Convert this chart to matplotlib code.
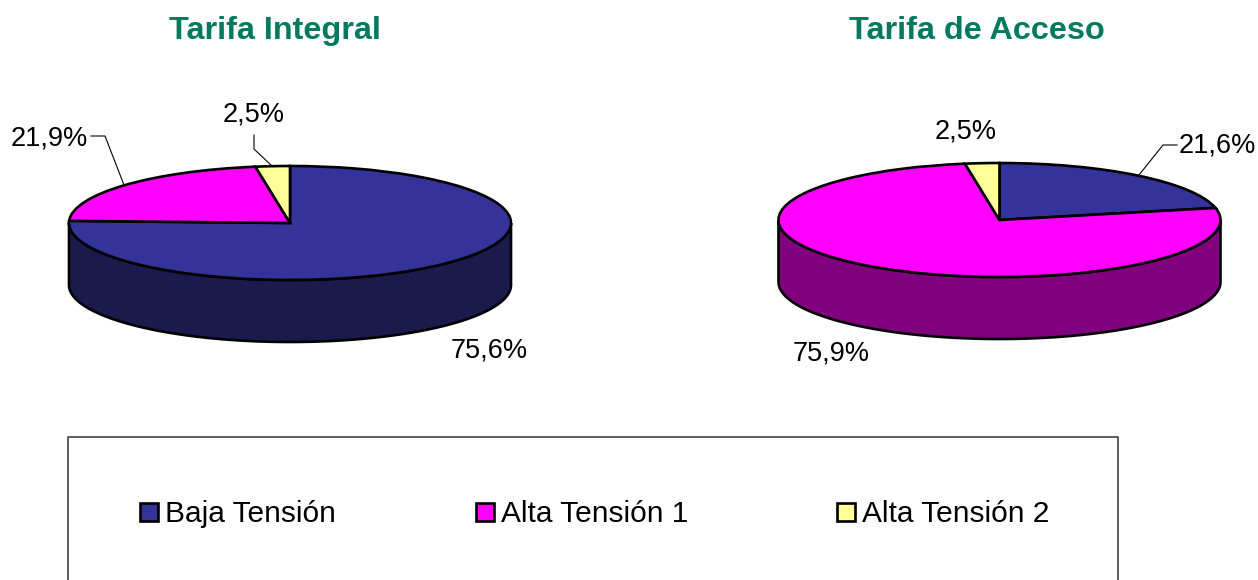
import numpy as np
import matplotlib
matplotlib.use("Agg")
import matplotlib.pyplot as plt
from matplotlib.patches import Rectangle

# datos de cada torta
categorias = ["Baja Tensión", "Alta Tensión 1", "Alta Tensión 2"]
tarifa_integral = [75.6, 21.9, 2.5]
tarifa_acceso = [21.6, 75.9, 2.5]
etiquetas_integral = ["75,6%", "21,9%", "2,5%"]
etiquetas_acceso = ["21,6%", "75,9%", "2,5%"]

colores = ["#333399", "#FF00FF", "#FFFF99"]
colores_lado_integral = ["#1A1A4D", "#800080", "#808050"]
colores_lado_acceso = ["#1A1A4D", "#800080", "#808050"]

W, H = 1258, 580
plt.rcParams['font.family'] = ['Liberation Sans', 'DejaVu Sans']

fig = plt.figure(figsize=(W / 100, H / 100), dpi=100)

# capa en pixeles para textos y leyenda
capa = fig.add_axes([0, 0, 1, 1], zorder=5)
capa.set_xlim(0, W)
capa.set_ylim(H, 0)
capa.axis("off")
capa.patch.set_alpha(0)


def torta(cx, cy, rx, ry, prof, valores, lados):
    ax = fig.add_axes([(cx - rx) / W, 1 - (cy + ry) / H, 2 * rx / W, 2 * ry / H])
    wedges, _ = ax.pie(valores, colors=colores, startangle=90, counterclock=False,
                       wedgeprops=dict(edgecolor="black", linewidth=1.9, clip_on=False))
    ax.set_aspect("auto")
    ax.set_xlim(-1, 1)
    ax.set_ylim(-1, 1)
    h = prof / ry
    # pared lateral: solo la mitad delantera de cada sector
    for w, lado in zip(wedges, lados):
        t1, t2 = sorted((w.theta1, w.theta2))
        for k in (0, 360):
            a = max(t1 + k, 180)
            b = min(t2 + k, 360)
            if b <= a:
                continue
            t = np.radians(np.linspace(a, b, 120))
            xs = np.cos(t)
            ys = np.sin(t)
            ax.fill(np.r_[xs, xs[::-1]], np.r_[ys, ys[::-1] - h], facecolor=lado,
                    edgecolor="black", linewidth=1.9, clip_on=False, zorder=0.5)
    return ax


torta(290, 223, 221, 57, 62, tarifa_integral, colores_lado_integral)
torta(999.5, 220, 221, 57, 62, tarifa_acceso, colores_lado_acceso)

# titulos
capa.text(274.5, 31, "Tarifa Integral", color="#007A5E", fontsize=23.3, fontweight="bold",
          ha="center", va="center")
capa.text(977, 31, "Tarifa de Acceso", color="#007A5E", fontsize=23.3, fontweight="bold",
          ha="center", va="center")

# etiquetas de valor
capa.text(489, 350.5, etiquetas_integral[0], fontsize=19.5, ha="center", va="center")
capa.text(49.5, 138.5, etiquetas_integral[1], fontsize=19.5, ha="center", va="center")
capa.text(254, 114.5, etiquetas_integral[2], fontsize=19.5, ha="center", va="center")
capa.text(1217, 146, etiquetas_acceso[0], fontsize=19.5, ha="center", va="center")
capa.text(831, 353, etiquetas_acceso[1], fontsize=19.5, ha="center", va="center")
capa.text(966, 131, etiquetas_acceso[2], fontsize=19.5, ha="center", va="center")

# lineas guia
capa.plot([91, 105, 124], [136, 136, 185], color="black", lw=0.8)
capa.plot([254, 254, 272], [135, 149, 166], color="black", lw=0.8)
capa.plot([1177, 1163, 1139], [145, 145, 175], color="black", lw=0.8)

# leyenda
capa.plot([68, 68, 1118, 1118], [580, 436.5, 436.5, 580], color="#333333", lw=1.1)
for nombre, color, xpos in zip(categorias, colores, [139, 475, 836]):
    capa.add_patch(Rectangle((xpos + 1, 503), 17.5, 17.5, facecolor=color, edgecolor="black", lw=1.9))
    capa.text(xpos + 26, 514, nombre, fontsize=21.5, ha="left", va="center")

fig.savefig("out.png", dpi=100)
